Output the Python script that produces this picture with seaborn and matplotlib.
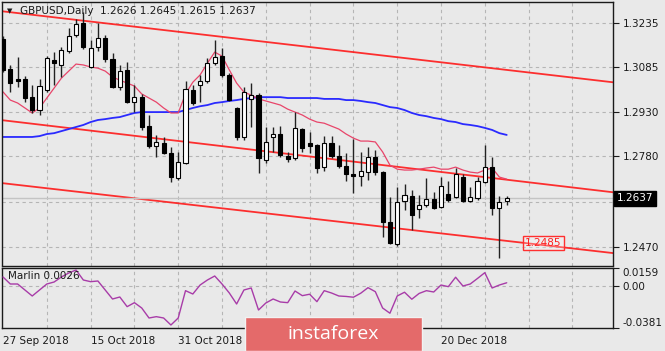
import numpy as np
import pandas as pd
import seaborn as sns
import matplotlib.pyplot as plt
import matplotlib.transforms as mtransforms
from matplotlib.patches import Rectangle

sns.set_style("white")
plt.rcParams['font.family'] = ['DejaVu Sans']

# ---- data (GBPUSD daily) ----
opens = [1.3180, 1.3078, 1.3044, 1.3044, 1.2982, 1.2938, 1.3006, 1.3109, 1.3092, 1.3139,
         1.3194, 1.3235, 1.3085, 1.3153, 1.3184, 1.3112, 1.3016, 1.3075, 1.2965, 1.2982,
         1.2883, 1.2815, 1.2825, 1.2791, 1.2706, 1.2757, 1.3006, 1.3023, 1.3037, 1.3098,
         1.3122, 1.3058, 1.2945, 1.2846, 1.2976, 1.2989, 1.2767, 1.2846, 1.2856, 1.2781,
         1.2774, 1.2873, 1.2825, 1.2818, 1.2743, 1.2825, 1.2781, 1.2747, 1.2719, 1.2713,
         1.2726, 1.2777, 1.2726, 1.2556, 1.2481, 1.2627, 1.2644, 1.2600, 1.2614, 1.2634,
         1.2607, 1.2651, 1.2641, 1.2709, 1.2627, 1.2638, 1.2692, 1.2743, 1.2603, 1.2626]
highs = [1.3191, 1.3092, 1.3119, 1.3054, 1.3023, 1.3044, 1.3122, 1.3136, 1.3153, 1.3218,
         1.3249, 1.3272, 1.3177, 1.3235, 1.3194, 1.3133, 1.3092, 1.3102, 1.3023, 1.2993,
         1.2921, 1.2853, 1.2846, 1.2812, 1.2795, 1.3037, 1.3023, 1.3058, 1.3115, 1.3177,
         1.3150, 1.3064, 1.2948, 1.3016, 1.3030, 1.2996, 1.2880, 1.2880, 1.2883, 1.2795,
         1.2931, 1.2877, 1.2863, 1.2822, 1.2849, 1.2849, 1.2818, 1.2791, 1.2839, 1.2795,
         1.2812, 1.2800, 1.2730, 1.2641, 1.2675, 1.2685, 1.2665, 1.2648, 1.2706, 1.2658,
         1.2709, 1.2696, 1.2740, 1.2719, 1.2675, 1.2709, 1.2818, 1.2777, 1.2644, 1.2645]
lows = [1.3068, 1.2999, 1.3016, 1.2965, 1.2928, 1.2921, 1.2999, 1.3023, 1.3051, 1.3133,
        1.3187, 1.3146, 1.3081, 1.3139, 1.3102, 1.3013, 1.3006, 1.2962, 1.2931, 1.2870,
        1.2808, 1.2777, 1.2788, 1.2692, 1.2699, 1.2752, 1.2955, 1.2965, 1.3030, 1.3092,
        1.3051, 1.2969, 1.2836, 1.2836, 1.2880, 1.2723, 1.2757, 1.2795, 1.2777, 1.2760,
        1.2767, 1.2795, 1.2791, 1.2723, 1.2730, 1.2774, 1.2740, 1.2696, 1.2655, 1.2680,
        1.2699, 1.2716, 1.2504, 1.2481, 1.2473, 1.2597, 1.2528, 1.2569, 1.2607, 1.2600,
        1.2603, 1.2624, 1.2638, 1.2624, 1.2624, 1.2631, 1.2689, 1.2579, 1.2432, 1.2615]
closes = [1.3075, 1.3030, 1.3037, 1.2979, 1.2938, 1.3020, 1.3115, 1.3098, 1.3143, 1.3191,
          1.3232, 1.3153, 1.3150, 1.3184, 1.3112, 1.3016, 1.3071, 1.2965, 1.2982, 1.2880,
          1.2815, 1.2829, 1.2791, 1.2709, 1.2760, 1.3010, 1.2962, 1.3037, 1.3098, 1.3119,
          1.3058, 1.2972, 1.2846, 1.2999, 1.2989, 1.2774, 1.2829, 1.2856, 1.2784, 1.2771,
          1.2877, 1.2808, 1.2815, 1.2740, 1.2825, 1.2781, 1.2747, 1.2719, 1.2713, 1.2730,
          1.2777, 1.2726, 1.2556, 1.2484, 1.2624, 1.2648, 1.2579, 1.2614, 1.2634, 1.2603,
          1.2679, 1.2631, 1.2719, 1.2627, 1.2641, 1.2696, 1.2743, 1.2603, 1.2624, 1.2637]

ma_fast = [1.3000, 1.2972, 1.2962, 1.2945, 1.2928, 1.2945, 1.2979, 1.3013, 1.3047, 1.3071,
           1.3095, 1.3092, 1.3085, 1.3081, 1.3071, 1.3051, 1.3040, 1.3030, 1.3020, 1.2993,
           1.2979, 1.2965, 1.2945, 1.2928, 1.2928, 1.2993, 1.3033, 1.3058, 1.3098, 1.3136,
           1.3122, 1.3075, 1.3030, 1.2999, 1.2989, 1.2976, 1.2969, 1.2962, 1.2955, 1.2941,
           1.2931, 1.2921, 1.2907, 1.2897, 1.2893, 1.2883, 1.2873, 1.2856, 1.2842, 1.2832,
           1.2832, 1.2829, 1.2795, 1.2750, 1.2736, 1.2733, 1.2733, 1.2736, 1.2740, 1.2743,
           1.2736, 1.2736, 1.2743, 1.2733, 1.2726, 1.2723, 1.2733, 1.2740, 1.2709, 1.2702]
ma_slow = [1.2846, 1.2846, 1.2846, 1.2846, 1.2846, 1.2849, 1.2856, 1.2859, 1.2866, 1.2873,
           1.2880, 1.2887, 1.2897, 1.2904, 1.2907, 1.2911, 1.2914, 1.2921, 1.2928, 1.2931,
           1.2931, 1.2931, 1.2931, 1.2931, 1.2931, 1.2938, 1.2945, 1.2951, 1.2955, 1.2962,
           1.2965, 1.2969, 1.2972, 1.2976, 1.2979, 1.2982, 1.2982, 1.2982, 1.2982, 1.2979,
           1.2979, 1.2979, 1.2979, 1.2979, 1.2976, 1.2976, 1.2976, 1.2972, 1.2972, 1.2969,
           1.2965, 1.2962, 1.2955, 1.2948, 1.2945, 1.2938, 1.2928, 1.2921, 1.2917, 1.2911,
           1.2907, 1.2900, 1.2897, 1.2890, 1.2887, 1.2883, 1.2877, 1.2870, 1.2859, 1.2853]
marlin = [0.0078, 0.0015, 0.0015, -0.0039, -0.0093, -0.0039, 0.0015, 0.0033, 0.0078, 0.0114,
          0.0141, 0.0051, 0.0036, 0.0042, -0.0039, -0.0120, -0.0102, -0.0189, -0.0153, -0.0201,
          -0.0291, -0.0279, -0.0291, -0.0354, -0.0291, -0.0045, -0.0075, 0.0006, 0.0051, 0.0087,
          0.0015, -0.0066, -0.0165, -0.0039, -0.0021, -0.0219, -0.0156, -0.0120, -0.0147, -0.0153,
          -0.0048, -0.0090, -0.0077, -0.0144, -0.0045, -0.0066, -0.0093, -0.0097, -0.0104, -0.0068,
          -0.0018, -0.0054, -0.0201, -0.0248, -0.0093, -0.0059, -0.0122, -0.0070, -0.0045, -0.0057,
          0.0006, -0.0009, 0.0076, -0.0003, 0.0015, 0.0065, 0.0117, -0.0021, 0.0006, 0.0026]

# channel anchors: price at first and last bar
chan_top = [1.3275, 1.3075]
chan_mid = [1.2903, 1.2700]
chan_bot = [1.2688, 1.2491]
level_label = 1.2485
last_price = 1.2637

price_ticks = [1.3235, 1.3085, 1.2930, 1.2780, 1.2625, 1.2470]
price_tick_labels = ['1.3235', '1.3085', '1.2930', '1.2780', '', '1.2470']  # 1.2625 hidden by price tag
osc_ticks = [0.0159, 0.0, -0.0381]
osc_tick_labels = ['0.0159', '0.00', '-0.0381']
date_bars = [0, 12, 24, 36, 48, 60]
date_labels = ['27 Sep 2018', '15 Oct 2018', '31 Oct 2018', '', '', '20 Dec 2018']  # two under the logo

# ---- styling ----
bg = '#e9e9e9'
grid_kw = dict(color='#b5b5b5', lw=0.8, ls=(0, (3, 3)), zorder=0)
FS = 7.5

bars = np.arange(len(opens))
df = pd.DataFrame(dict(bar=bars, open=opens, high=highs, low=lows, close=closes,
                       ma_fast=ma_fast, ma_slow=ma_slow, marlin=marlin))

W, H = 665, 351
fig = plt.figure(figsize=(W / 100, H / 100), dpi=100)
fig.patch.set_facecolor(bg)
ax = fig.add_axes([2 / W, 1 - 265.5 / H, 611 / W, 263.5 / H])
ax2 = fig.add_axes([2 / W, 1 - 328 / H, 611 / W, 60 / H], sharex=ax)

for a in (ax, ax2):
    a.set_facecolor(bg)
    for s in a.spines.values():
        s.set_color('#1a1a1a')
        s.set_linewidth(1)
    for b in range(6, 84, 6):
        a.axvline(b, **grid_kw)

ax.set_xlim(-0.14, 83.56)
ax.set_ylim(1.2407, 1.3307)
for p in price_ticks:
    ax.axhline(p, **grid_kw)

# channel
for ch in (chan_top, chan_mid, chan_bot):
    ax.axline((bars[0], ch[0]), (bars[-1], ch[1]), color='#ff1a1a', lw=1.3, alpha=0.9, zorder=1)

# price line
ax.axhline(last_price, color='#c4c4c4', lw=1, zorder=1)

# moving averages
sns.lineplot(data=df, x='bar', y='ma_slow', ax=ax, color='#2a2aff', lw=1.3, zorder=2)
sns.lineplot(data=df, x='bar', y='ma_fast', ax=ax, color='#e8456a', lw=0.9, zorder=2)

# candles
up = df.close >= df.open
ax.vlines(df.bar, df.low, df.high, color='#222222', lw=1, zorder=3)
body_lo = np.minimum(df.open, df.close)
body_h = (df.close - df.open).abs()
ax.bar(df.bar, body_h, bottom=body_lo, width=0.56,
       color=np.where(up, 'white', 'black'), edgecolor='black', lw=0.8, zorder=4)

# right axis
ax.yaxis.tick_right()
ax.set_yticks(price_ticks)
ax.set_yticklabels(price_tick_labels)
ax.tick_params(axis='y', direction='out', length=4, width=0.8, pad=3, labelsize=FS,
               colors='#1a1a1a')
ax.tick_params(axis='x', bottom=False, labelbottom=False)
ax.set_xlabel('')
ax.set_ylabel('')

# current price tag
blend = mtransforms.blended_transform_factory(ax.transAxes, ax.transData)
ax.text(1.006, last_price, f'{last_price:.4f}', transform=blend, ha='left', va='center',
        fontsize=FS, color='white', zorder=10, clip_on=False,
        bbox=dict(boxstyle='square,pad=0.25', fc='black', ec='black'))

# level label
ax.text(74, level_label, f'{level_label:.4f}', ha='center', va='center', fontsize=FS,
        color='#ff2020', zorder=6,
        bbox=dict(boxstyle='square,pad=0.2', fc=(1, 1, 1, 0.25), ec='#ff3030', lw=1))

# title
ax.text(0.008, 0.965, '▼', transform=ax.transAxes, fontsize=5, color='#1a1a1a', va='center')
ax.text(0.030, 0.965, 'GBPUSD,Daily  1.2626 1.2645 1.2615 1.2637', transform=ax.transAxes,
        fontsize=FS, color='#1a1a1a', va='center')

# oscillator
ax2.set_ylim(-0.0381, 0.0159)
ax2.axhline(0, **grid_kw)
sns.lineplot(data=df, x='bar', y='marlin', ax=ax2, color='#a83ca8', lw=1.0, zorder=3)
ax2.yaxis.tick_right()
ax2.set_yticks(osc_ticks)
ax2.set_yticklabels(osc_tick_labels)
ax2.tick_params(axis='y', direction='out', length=4, width=0.8, pad=3, labelsize=FS,
                colors='#1a1a1a')
lbls = ax2.get_yticklabels()
lbls[0].set_va('top')
lbls[2].set_va('bottom')
ax2.set_xticks(date_bars)
ax2.set_xticklabels(date_labels, ha='left')
ax2.tick_params(axis='x', direction='out', length=4, width=0.8, pad=2, labelsize=FS,
                colors='#1a1a1a')
ax2.set_xlabel('')
ax2.set_ylabel('')
ax2.text(0.01, 0.86, f'Marlin {marlin[-1]:.4f}', transform=ax2.transAxes, fontsize=FS,
         color='#1a1a1a', va='center')

# watermark
fig.patches.append(Rectangle((245 / W, 0), 177 / W, 34 / H, transform=fig.transFigure,
                             fc='#e46a6a', ec='#f2f2f2', lw=1, zorder=20))
fig.text(333 / W, 1 - 334 / H, 'instaforex', color='white', fontsize=14,
         family=['Open Sans', 'DejaVu Sans'], ha='center', va='center', zorder=21)

fig.savefig('out.png', dpi=100, facecolor=bg)
